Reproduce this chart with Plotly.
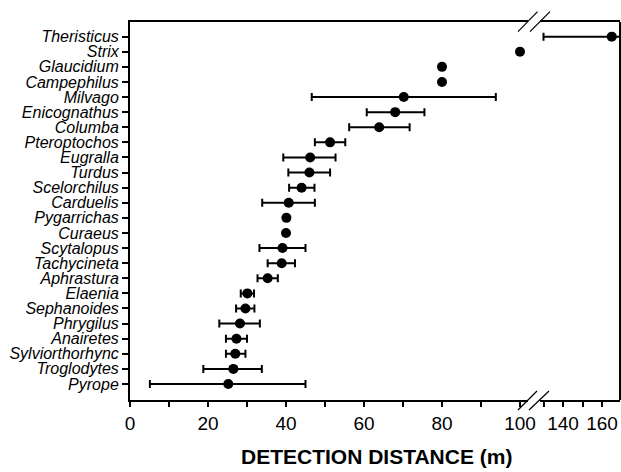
import plotly.graph_objects as go

species = ["Pyrope", "Troglodytes", "Sylviorthorhync", "Anairetes", "Phrygilus",
           "Sephanoides", "Elaenia", "Aphrastura", "Tachycineta", "Scytalopus",
           "Curaeus", "Pygarrichas", "Carduelis", "Scelorchilus", "Turdus",
           "Eugralla", "Pteroptochos", "Columba", "Enicognathus", "Milvago",
           "Campephilus", "Glaucidium", "Strix", "Theristicus"]
mean_dist = [25.2, 26.5, 27.0, 27.3, 28.2, 29.6, 30.1, 35.3, 38.9, 39.1,
             40.0, 40.1, 40.7, 44.0, 46.0, 46.2, 51.3, 63.9, 68.0, 70.2,
             80.0, 80.0, 100.0, 165.0]
low_dist = [5.1, 18.8, 24.6, 24.6, 22.9, 27.2, 28.4, 32.7, 35.3, 33.2,
            40.0, 40.1, 33.9, 40.8, 40.6, 39.3, 47.4, 56.2, 60.7, 46.6,
            80.0, 80.0, 100.0, 130.0]
high_dist = [45.0, 33.8, 29.6, 30.0, 33.3, 31.9, 31.8, 37.9, 42.3, 45.0,
             40.0, 40.1, 47.4, 47.3, 51.3, 52.7, 55.2, 71.7, 75.5, 93.8,
             80.0, 80.0, 100.0, 200.0]

ticks1 = [0, 10, 20, 30, 40, 50, 60, 70, 80, 90, 100]
labels1 = ["0", "", "20", "", "40", "", "60", "", "80", "", "100"]
ticks2 = [130, 140, 150, 160]
labels2 = ["", "140", "", "160"]

ypos = list(range(len(species)))
plus = [h - m for h, m in zip(high_dist, mean_dist)]
minus = [m - l for m, l in zip(mean_dist, low_dist)]

n1 = len(species) - 1  # all but Theristicus on first segment

fig = go.Figure()
common = dict(mode="markers", marker=dict(color="black", size=10), showlegend=False,
              hoverinfo="skip")
fig.add_trace(go.Scatter(
    x=mean_dist[:n1], y=ypos[:n1],
    error_x=dict(type="data", symmetric=False, array=plus[:n1], arrayminus=minus[:n1],
                 color="black", thickness=2, width=4),
    xaxis="x", yaxis="y", **common))
fig.add_trace(go.Scatter(
    x=mean_dist[n1:], y=ypos[n1:],
    error_x=dict(type="data", symmetric=False, array=plus[n1:], arrayminus=minus[n1:],
                 color="black", thickness=2, width=4),
    xaxis="x2", yaxis="y", **common))

L, R, T, B = 130, 1, 22, 72
W, H = 621, 472
pw = W - L - R
ph = H - T - B

def px(x):
    return (x - L) / pw

def py(y):
    return (T + ph - y) / ph

axis_common = dict(showline=True, linecolor="black", linewidth=2, mirror=True,
                   ticks="outside", ticklen=5, tickwidth=1.5, tickcolor="black",
                   showgrid=False, zeroline=False, automargin=False,
                   tickfont=dict(family="Liberation Sans, Arial", size=19, color="black"))

fig.update_layout(
    width=W, height=H, autosize=False,
    margin=dict(l=L, r=R, t=T, b=B, pad=0, autoexpand=False),
    paper_bgcolor="white", plot_bgcolor="white",
    xaxis=dict(domain=[0, px(528)], range=[0, (528 - 130) / 3.9],
               tickmode="array", tickvals=ticks1, ticktext=labels1, **axis_common),
    xaxis2=dict(domain=[px(540), 1], range=[140 - (563 - 540) / 1.95, 140 + (620 - 563) / 1.95],
                anchor="y", tickmode="array", tickvals=ticks2, ticktext=labels2, **axis_common),
    yaxis=dict(range=[-1.06, 23.97], tickmode="array", tickvals=ypos, ticktext=species,
               showline=True, linecolor="black", linewidth=2, automargin=False,
               ticks="outside", ticklen=6, tickwidth=1.5, tickcolor="black",
               showgrid=False, zeroline=False,
               tickfont=dict(family="Liberation Sans, Arial", size=16, color="black",
                             style="italic")),
    annotations=[dict(text="<b>DETECTION DISTANCE (m)</b>", xref="paper", yref="paper",
                      x=px(376.5), y=py(457), xanchor="center", yanchor="middle",
                      showarrow=False,
                      font=dict(family="Liberation Sans, Arial", size=21, color="black"))],
)

shapes = []
# right frame edge
shapes.append(dict(type="line", xref="paper", yref="paper", x0=1, x1=1, y0=0, y1=1,
                   line=dict(color="black", width=2)))
# axis-break slashes (top and bottom)
for (x0, y0, x1, y1) in [(518, 31.7, 537.5, 11.7), (530, 31.7, 550, 11.7),
                         (518, 410, 537, 391), (529, 410, 549, 391)]:
    shapes.append(dict(type="line", xref="paper", yref="paper",
                       x0=px(x0), y0=py(y0), x1=px(x1), y1=py(y1),
                       line=dict(color="black", width=1.2)))
fig.update_layout(shapes=shapes)

fig.write_html("out.html", config={"displayModeBar": False, "responsive": False},
               post_script="document.body.style.margin='0';document.body.style.padding='0';")
